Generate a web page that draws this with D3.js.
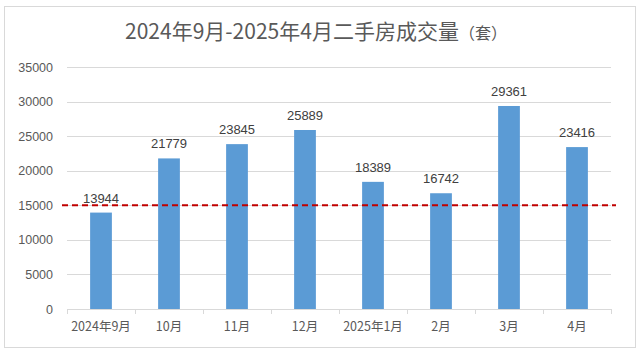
<!DOCTYPE html>
<html>
<head>
<meta charset="utf-8">
<script src="https://cdn.jsdelivr.net/npm/d3@7"></script>
<style>
  body { margin: 0; background: #fff; }
  svg { display: block; font-family: "Noto Sans CJK SC", "Liberation Sans", sans-serif; }
</style>
</head>
<body>
<svg id="chart"></svg>
<script>
const months = ["2024年9月", "10月", "11月", "12月", "2025年1月", "2月", "3月", "4月"];
const sales = [13944, 21779, 23845, 25889, 18389, 16742, 29361, 23416];
const yTicks = [0, 5000, 10000, 15000, 20000, 25000, 30000, 35000];
const refLine = 15000;

const width = 640, height = 354;
const svg = d3.select("#chart").attr("width", width).attr("height", height);

// outer frame
svg.append("rect")
  .attr("x", 4.5).attr("y", 6.5)
  .attr("width", 631).attr("height", 341)
  .attr("fill", "#fff").attr("stroke", "#d9d9d9");

// title
const title = svg.append("text")
  .attr("x", 316).attr("y", 39)
  .attr("text-anchor", "middle")
  .attr("fill", "#595959")
  .attr("font-size", 21);
title.append("tspan").text("2024年9月-2025年4月二手房成交量");
title.append("tspan").attr("font-size", 16).text("（套）");

const x = d3.scaleBand().domain(months).range([67, 611]).paddingInner(0.68).paddingOuter(0.34);
const y = d3.scaleLinear().domain([0, 35000]).range([309, 67]);

// gridlines
svg.append("g")
  .selectAll("line")
  .data(yTicks.slice(1))
  .enter().append("line")
    .attr("x1", 67).attr("x2", 611)
    .attr("y1", d => Math.round(y(d)) + 0.5)
    .attr("y2", d => Math.round(y(d)) + 0.5)
    .attr("stroke", "#d9d9d9");

// y labels
svg.append("g")
  .selectAll("text")
  .data(yTicks)
  .enter().append("text")
    .attr("x", 53)
    .attr("y", d => y(d) + 4.5)
    .attr("text-anchor", "end")
    .attr("fill", "#595959")
    .attr("font-size", 12.5)
    .attr("font-family", "Liberation Sans, sans-serif")
    .text(d => d);

// bars
svg.append("g")
  .selectAll("rect")
  .data(sales)
  .enter().append("rect")
    .attr("x", (d, i) => x(months[i]))
    .attr("y", d => y(d))
    .attr("width", x.bandwidth())
    .attr("height", d => y(0) - y(d))
    .attr("fill", "#5b9bd5");

// value labels
svg.append("g")
  .selectAll("text")
  .data(sales)
  .enter().append("text")
    .attr("x", (d, i) => x(months[i]) + x.bandwidth() / 2)
    .attr("y", d => y(d) - 10)
    .attr("text-anchor", "middle")
    .attr("fill", "#404040")
    .attr("font-size", 13)
    .attr("font-family", "Liberation Sans, sans-serif")
    .text(d => d);

// x axis line + ticks
const xAxis = svg.append("g");
xAxis.append("line")
  .attr("x1", 67).attr("x2", 611)
  .attr("y1", 309.5).attr("y2", 309.5)
  .attr("stroke", "#d9d9d9");
const step = x.step();
xAxis.selectAll("line.tick")
  .data(d3.range(months.length + 1))
  .enter().append("line")
    .attr("class", "tick")
    .attr("x1", i => 67 + i * step + 0.5)
    .attr("x2", i => 67 + i * step + 0.5)
    .attr("y1", 309).attr("y2", 314)
    .attr("stroke", "#d9d9d9");
xAxis.selectAll("text")
  .data(months)
  .enter().append("text")
    .attr("x", d => x(d) + x.bandwidth() / 2)
    .attr("y", 331)
    .attr("text-anchor", "middle")
    .attr("fill", "#595959")
    .attr("font-size", 12.5)
    .text(d => d);

// reference line
svg.append("line")
  .attr("x1", 62).attr("x2", 616)
  .attr("y1", y(refLine)).attr("y2", y(refLine))
  .attr("stroke", "#c00000")
  .attr("stroke-width", 2)
  .attr("stroke-dasharray", "6,4");
</script>
</body>
</html>
